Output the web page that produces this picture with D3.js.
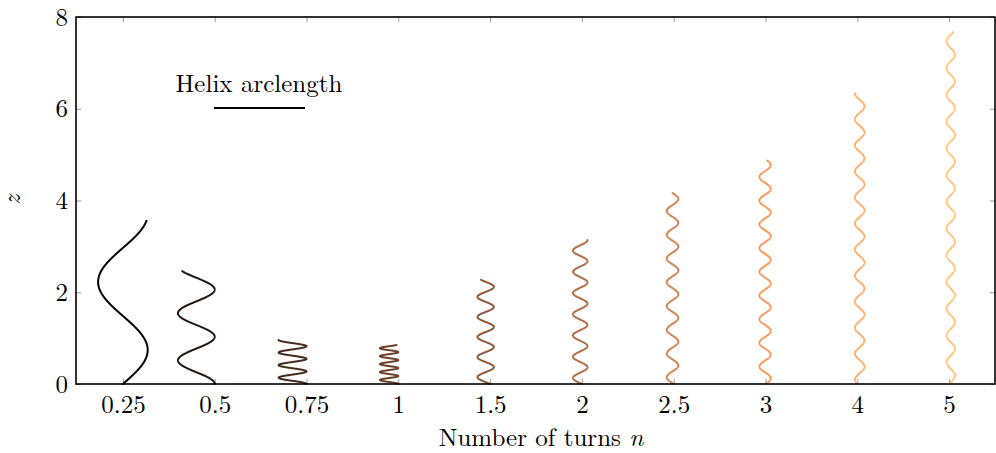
<!DOCTYPE html>
<html>
<head>
<meta charset="utf-8">
<script src="https://cdn.jsdelivr.net/npm/d3@7"></script>
<style>
  html, body { margin: 0; padding: 0; background: #fff; }
  svg { display: block; }
  text { font-family: "Latin Modern Roman", "CMU Serif", "Liberation Serif", serif; fill: #000; }
</style>
</head>
<body>
<svg id="chart" width="996" height="453"></svg>
<script>
// ---- data ----
const categories = ["0.25", "0.5", "0.75", "1", "1.5", "2", "2.5", "3", "4", "5"];
// top height (z) reached by each helix
const heights = [3.56, 2.46, 0.96, 0.85, 2.27, 3.14, 4.16, 4.87, 6.34, 7.67];
// horizontal half-width of each helix (in category steps)
const radii = [0.27, 0.20, 0.152, 0.10, 0.089, 0.079, 0.063, 0.062, 0.052, 0.046];
// visible oscillations along each helix
const turnsVisible = [1.2, 2.39, 3.5, 4.9, 5.19, 6.79, 8.03, 9.43, 11.17, 13.16];
// starting phase of each helix
const startPhase = [-Math.PI / 2, 0, 0, 0, 1.0, 1.34, 1.37, -1.5, 2.1, -1.98];
const yTicks = [0, 2, 4, 6, 8];
const legendLabel = "Helix arclength";

// ---- layout ----
const svg = d3.select("#chart");
const plotLeft = 77, plotRight = 995, plotTop = 17, plotBottom = 384;

const x = d3.scaleLinear().domain([-0.5, categories.length - 0.5]).range([plotLeft, plotRight]);
const y = d3.scaleLinear().domain([0, 8]).range([plotBottom, plotTop]);

// copper colormap
function copper(t) {
  const r = Math.min(1, 1.25 * t), g = 0.7812 * t, b = 0.4975 * t;
  return d3.rgb(r * 255, g * 255, b * 255).formatHex();
}

const tickColor = "#9a9a9a";
const fontSize = 25;
const fontFam = "'Latin Modern Roman', 'CMU Serif', 'Liberation Serif', serif";

// axes
const xAxisB = d3.axisBottom(x).tickValues(d3.range(categories.length))
  .tickFormat(i => categories[i]).tickSizeInner(-5).tickSizeOuter(0).tickPadding(11);
const gxb = svg.append("g").attr("transform", `translate(0,${plotBottom})`).call(xAxisB);
const xAxisT = d3.axisTop(x).tickValues(d3.range(categories.length))
  .tickFormat("").tickSizeInner(-5).tickSizeOuter(0);
const gxt = svg.append("g").attr("transform", `translate(0,${plotTop})`).call(xAxisT);
const yAxisL = d3.axisLeft(y).tickValues(yTicks).tickFormat(d3.format("d"))
  .tickSizeInner(-5).tickSizeOuter(0).tickPadding(8);
const gyl = svg.append("g").attr("transform", `translate(${plotLeft - 1},0)`).call(yAxisL);
const yAxisR = d3.axisRight(y).tickValues(yTicks).tickFormat("")
  .tickSizeInner(-5).tickSizeOuter(0);
const gyr = svg.append("g").attr("transform", `translate(${plotRight},0)`).call(yAxisR);

[gxb, gxt, gyl, gyr].forEach(g => {
  g.select(".domain").remove();
  g.selectAll(".tick line").attr("stroke", tickColor).attr("stroke-width", 1);
  g.selectAll(".tick text").attr("font-size", fontSize)
    .attr("font-family", fontFam)
    .attr("fill", "#000");
});

// helices
const line = d3.line().x(d => x(d[0])).y(d => y(d[1]));
const nSamples = 900;
categories.forEach((c, i) => {
  const P = turnsVisible[i], phi = startPhase[i], A = radii[i], h = heights[i];
  const pts = d3.range(nSamples + 1).map(k => {
    const th = 2 * Math.PI * P * k / nSamples;
    return [i + A * (Math.cos(phi + th) - Math.cos(phi)), h * k / nSamples];
  });
  svg.append("path").datum(pts)
    .attr("d", line)
    .attr("fill", "none")
    .attr("stroke", copper(i / (categories.length - 1)))
    .attr("stroke-width", 2)
    .attr("stroke-linejoin", "round")
    .attr("stroke-linecap", "round");
});

// frame
svg.append("rect")
  .attr("x", plotLeft - 1).attr("y", plotTop)
  .attr("width", plotRight - plotLeft + 1).attr("height", plotBottom - plotTop)
  .attr("fill", "none").attr("stroke", "#000").attr("stroke-width", 1.6);

// axis labels
svg.append("text")
  .attr("x", 541).attr("y", 446)
  .attr("text-anchor", "middle").attr("font-size", fontSize)
  .text("Number of turns ")
  .append("tspan").attr("font-style", "italic").text("n");

svg.append("text")
  .attr("transform", "translate(20,200) rotate(-90)")
  .attr("text-anchor", "middle").attr("font-size", fontSize)
  .attr("font-style", "italic")
  .text("z");

// legend
svg.append("text")
  .attr("x", 259).attr("y", 92)
  .attr("text-anchor", "middle").attr("font-size", fontSize)
  .text(legendLabel);
svg.append("line")
  .attr("x1", 214).attr("x2", 305).attr("y1", 108).attr("y2", 108)
  .attr("stroke", copper(0)).attr("stroke-width", 2);
</script>
</body>
</html>
